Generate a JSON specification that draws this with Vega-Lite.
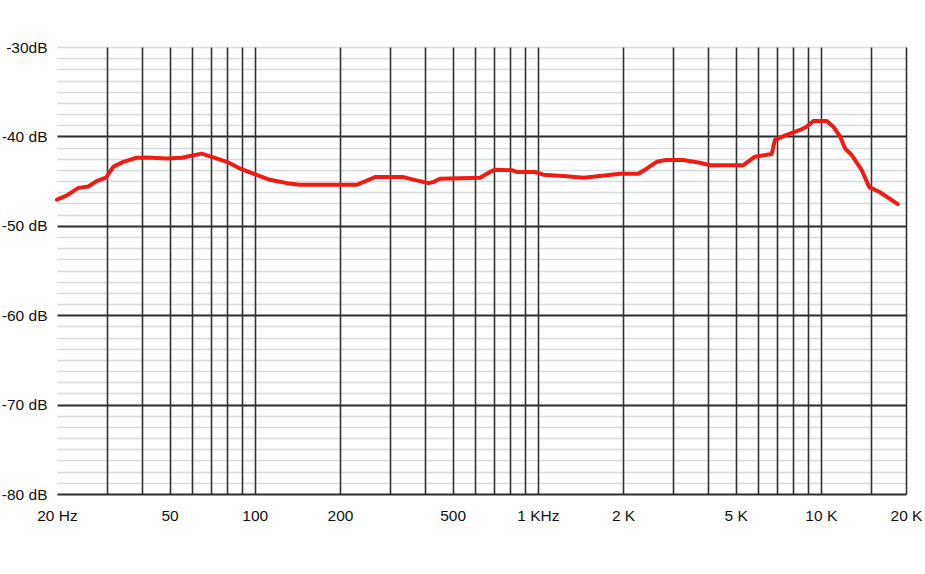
{
  "$schema": "https://vega.github.io/schema/vega-lite/v6.json",
  "autosize": "none",
  "width": 849,
  "height": 447,
  "padding": {"left": 57, "top": 47, "right": 19, "bottom": 80},
  "background": "white",
  "config": {
    "view": {"stroke": null}
  },
  "data": {
    "values": [
      {"f": 20, "db": -47.08},
      {"f": 21.6, "db": -46.63},
      {"f": 23.8, "db": -45.76},
      {"f": 25.8, "db": -45.6},
      {"f": 27.6, "db": -45.0},
      {"f": 29.8, "db": -44.62},
      {"f": 31.6, "db": -43.41},
      {"f": 34.3, "db": -42.84},
      {"f": 38.2, "db": -42.39},
      {"f": 41.5, "db": -42.35},
      {"f": 48.8, "db": -42.47},
      {"f": 55.2, "db": -42.39},
      {"f": 59.0, "db": -42.19},
      {"f": 64.9, "db": -41.93},
      {"f": 71.3, "db": -42.35},
      {"f": 79.6, "db": -42.84},
      {"f": 88.7, "db": -43.6},
      {"f": 98.8, "db": -44.17},
      {"f": 113, "db": -44.85},
      {"f": 130, "db": -45.23},
      {"f": 144, "db": -45.42},
      {"f": 229, "db": -45.42},
      {"f": 245, "db": -45.03},
      {"f": 266, "db": -44.55},
      {"f": 335, "db": -44.55},
      {"f": 373, "db": -44.92},
      {"f": 410, "db": -45.23},
      {"f": 427, "db": -45.11},
      {"f": 451, "db": -44.74},
      {"f": 625, "db": -44.62},
      {"f": 678, "db": -43.98},
      {"f": 706, "db": -43.72},
      {"f": 809, "db": -43.78},
      {"f": 842, "db": -43.98},
      {"f": 977, "db": -43.98},
      {"f": 1046, "db": -44.28},
      {"f": 1265, "db": -44.47},
      {"f": 1448, "db": -44.62},
      {"f": 1658, "db": -44.43},
      {"f": 1952, "db": -44.17},
      {"f": 2265, "db": -44.17},
      {"f": 2393, "db": -43.72},
      {"f": 2631, "db": -42.84},
      {"f": 2814, "db": -42.65},
      {"f": 3266, "db": -42.65},
      {"f": 3742, "db": -42.95},
      {"f": 4058, "db": -43.22},
      {"f": 5323, "db": -43.22},
      {"f": 5854, "db": -42.27},
      {"f": 6706, "db": -41.97},
      {"f": 6888, "db": -40.38},
      {"f": 7571, "db": -39.82},
      {"f": 8443, "db": -39.28},
      {"f": 8914, "db": -38.92},
      {"f": 9408, "db": -38.28},
      {"f": 10492, "db": -38.28},
      {"f": 11070, "db": -38.92},
      {"f": 11692, "db": -40.0},
      {"f": 12180, "db": -41.33},
      {"f": 12857, "db": -42.08},
      {"f": 13952, "db": -43.78},
      {"f": 14838, "db": -45.68},
      {"f": 16186, "db": -46.25},
      {"f": 18696, "db": -47.58}
    ]
  },
  "mark": {"type": "line", "color": "#f01c14", "strokeWidth": 4, "strokeJoin": "round", "strokeCap": "round"},
  "encoding": {
    "x": {
      "field": "f",
      "type": "quantitative",
      "scale": {"type": "log", "domain": [20, 20000], "nice": false},
      "axis": {
        "title": null,
        "domain": false,
        "ticks": false,
        "labelOverlap": false,
        "labelBound": false,
        "labelFlush": false,
        "labelFont": "Liberation Sans",
        "labelFontSize": 15.5,
        "labelColor": "#111111",
        "values": [20, 30, 40, 50, 60, 70, 80, 90, 100, 200, 300, 400, 500, 600, 700, 800, 900, 1000, 2000, 3000, 4000, 5000, 6000, 7000, 8000, 9000, 10000, 15000, 20000],
        "grid": true,
        "gridColor": "#2f3333",
        "gridOpacity": {"condition": {"test": "datum.value == 20", "value": 0}, "value": 1},
        "gridWidth": 1.6,
        "labelPadding": 14,
        "labelExpr": "datum.value == 20 ? '20 Hz' : datum.value == 1000 ? '1 KHz' : indexof([50,100,200,500], datum.value) >= 0 ? '' + datum.value : indexof([2000,5000,10000,20000], datum.value) >= 0 ? (datum.value / 1000) + ' K' : ''"
      }
    },
    "y": {
      "field": "db",
      "type": "quantitative",
      "scale": {"domain": [-80, -30], "nice": false, "zero": false},
      "axis": {
        "title": null,
        "domain": false,
        "ticks": false,
        "labelOverlap": false,
        "labelBound": false,
        "labelFlush": false,
        "labelFont": "Liberation Sans",
        "labelFontSize": 15.5,
        "labelColor": "#111111",
        "values": [-80, -78.75, -77.5, -76.25, -75, -73.75, -72.5, -71.25, -70, -68.75, -67.5, -66.25, -65, -63.75, -62.5, -61.25, -60, -58.75, -57.5, -56.25, -55, -53.75, -52.5, -51.25, -50, -48.75, -47.5, -46.25, -45, -43.75, -42.5, -41.25, -40, -38.75, -37.5, -36.25, -35, -33.75, -32.5, -31.25, -30],
        "grid": true,
        "gridColor": {"condition": {"test": "datum.value % 10 == 0 && datum.value < -35", "value": "#2a2d2d"}, "value": "#4a6070"},
        "gridOpacity": {"condition": {"test": "datum.value % 10 == 0 && datum.value < -35", "value": 1}, "value": 0.22},
        "gridWidth": {"condition": {"test": "datum.value % 10 == 0 && datum.value < -35", "value": 2}, "value": 1.6},
        "labelPadding": 10,
        "labelExpr": "datum.value == -30 ? '-30dB' : datum.value % 10 == 0 ? datum.value + ' dB' : ''"
      }
    }
  }
}
